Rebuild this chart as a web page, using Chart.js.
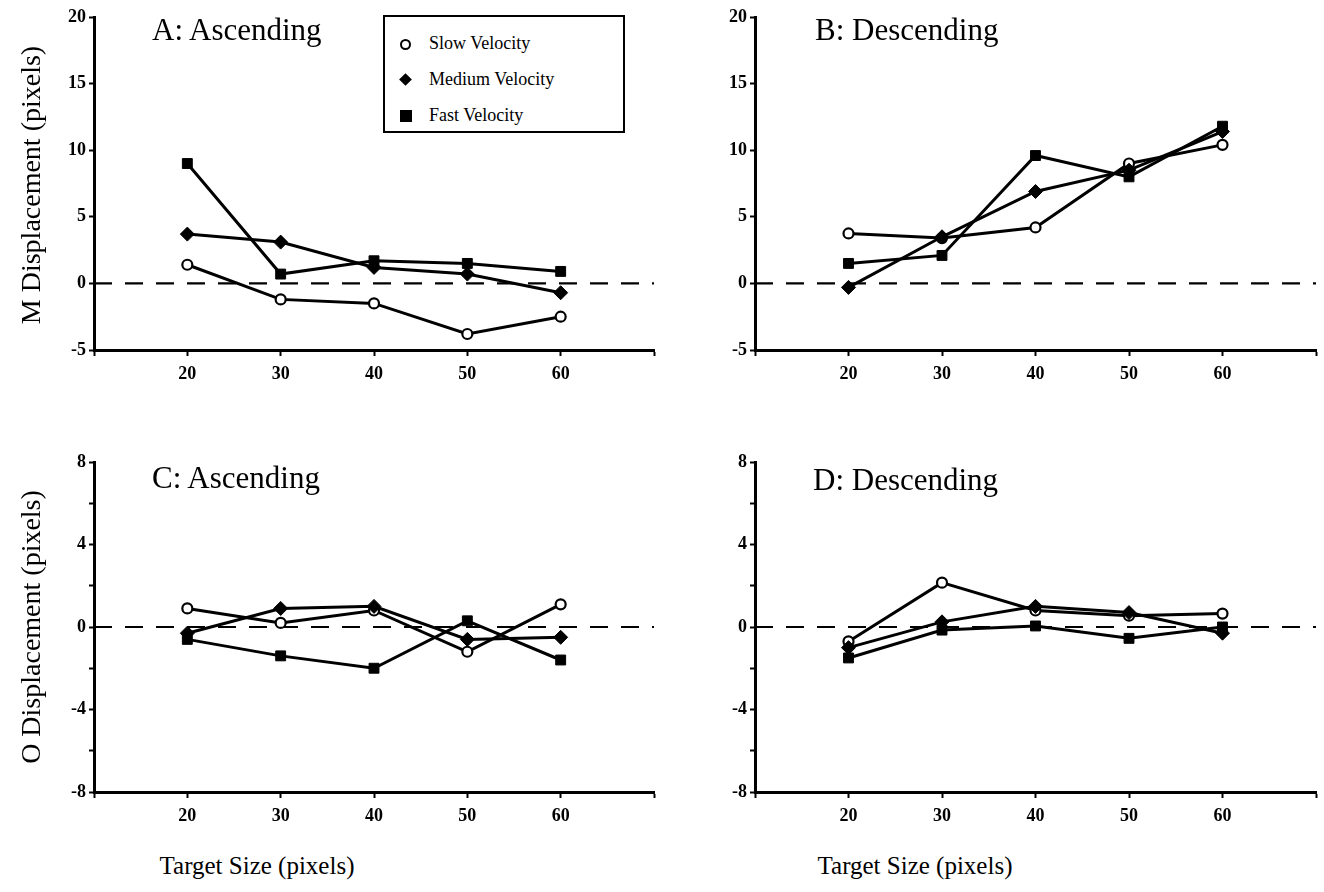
<!DOCTYPE html>
<html>
<head>
<meta charset="utf-8">
<script src="https://cdn.jsdelivr.net/npm/chart.js@4"></script>
<style>
  body { margin: 0; background: #fff; }
  #page { position: relative; width: 1324px; height: 892px; overflow: hidden; font-family: "Liberation Serif", "DejaVu Serif", serif; color: #000; }
  .panel { position: absolute; }
  .label { position: absolute; white-space: nowrap; font-size: 31px; }
  .ytitle { position: absolute; white-space: nowrap; font-size: 28px; transform: translate(-50%, -50%) rotate(-90deg); }
  .xtitle { position: absolute; white-space: nowrap; font-size: 25px; transform: translateX(-50%); }
  .legend { position: absolute; left: 383px; top: 15px; width: 238px; height: 114px; border: 2.5px solid #000; background: #fff; }
  .legend .row { position: absolute; left: 0; font-size: 18px; }
  .legend .mk { position: absolute; left: 15px; }
  .legend .txt { position: absolute; left: 44px; top: -11px; white-space: nowrap; }
  .open { width: 7px; height: 7px; border: 2px solid #000; border-radius: 50%; background: #fff; top: -5px; }
  .diam { width: 9px; height: 9px; background: #000; transform: rotate(45deg); top: -5px; left: 16px !important; }
  .sq { width: 12px; height: 12px; background: #000; top: -6px; }
</style>
</head>
<body>
<div id="page">
  <canvas id="chartA" class="panel" width="662" height="400" style="left:0;top:0"></canvas>
  <canvas id="chartB" class="panel" width="663" height="400" style="left:661px;top:0"></canvas>
  <canvas id="chartC" class="panel" width="662" height="400" style="left:0;top:445px"></canvas>
  <canvas id="chartD" class="panel" width="663" height="400" style="left:661px;top:445px"></canvas>

  <div class="label" style="left:152px;top:12px">A: Ascending</div>
  <div class="label" style="left:815px;top:12px">B: Descending</div>
  <div class="label" style="left:152px;top:460px">C: Ascending</div>
  <div class="label" style="left:813px;top:462px">D: Descending</div>

  <div class="ytitle" style="left:31px;top:185px">M Displacement (pixels)</div>
  <div class="ytitle" style="left:31px;top:627px">O Displacement (pixels)</div>
  <div class="xtitle" style="left:257px;top:852px">Target Size (pixels)</div>
  <div class="xtitle" style="left:915px;top:852px">Target Size (pixels)</div>

  <div class="legend">
    <div class="row" style="top:27px"><div class="mk open"></div><div class="txt">Slow Velocity</div></div>
    <div class="row" style="top:63px"><div class="mk diam"></div><div class="txt">Medium Velocity</div></div>
    <div class="row" style="top:99px"><div class="mk sq"></div><div class="txt">Fast Velocity</div></div>
  </div>
</div>
<script>
// target sizes on the x axis
const targetSizes = [20, 30, 40, 50, 60];
const xRange = [10, 70];

// A: M displacement, ascending
const aSlow = [1.4, -1.2, -1.5, -3.8, -2.5];
const aMedium = [3.7, 3.1, 1.2, 0.7, -0.7];
const aFast = [9.0, 0.7, 1.7, 1.5, 0.9];

// B: M displacement, descending
const bSlow = [3.75, 3.4, 4.2, 9.0, 10.4];
const bMedium = [-0.3, 3.5, 6.9, 8.5, 11.4];
const bFast = [1.5, 2.1, 9.6, 8.0, 11.8];

// C: O displacement, ascending
const cSlow = [0.9, 0.2, 0.8, -1.2, 1.1];
const cMedium = [-0.3, 0.9, 1.0, -0.6, -0.5];
const cFast = [-0.6, -1.4, -2.0, 0.3, -1.6];

// D: O displacement, descending
const dSlow = [-0.7, 2.15, 0.8, 0.55, 0.65];
const dMedium = [-1.0, 0.25, 1.0, 0.7, -0.3];
const dFast = [-1.5, -0.15, 0.05, -0.55, 0.0];

// y axis ranges and tick labels
const mRange = [-5, 20];
const mTickLabels = [-5, 0, 5, 10, 15, 20];
const oRange = [-8, 8];
const oTickLabels = [-8, -4, 0, 4, 8];

const tickFont = { family: "Liberation Serif", size: 18, weight: "bold" };

function pts(ys) {
  return targetSizes.map((x, i) => ({ x: x, y: ys[i] }));
}

function makeChart(id, slow, medium, fast, yRange, yStep, yLabels, topPad, xHeight, rightPad) {
  const ctx = document.getElementById(id).getContext('2d');
  const common = { borderColor: '#000', borderWidth: 3, pointBorderColor: '#000', tension: 0, clip: false, order: 1 };
  return new Chart(ctx, {
    type: 'line',
    data: {
      datasets: [
        { label: 'zero', data: xRange.map(x => ({ x: x, y: 0 })), borderColor: '#000', borderWidth: 2.2, borderDash: [18, 13], pointRadius: 0, order: 10 },
        { ...common, label: 'Fast Velocity', data: pts(fast), pointStyle: 'rect', pointRadius: 7, pointBackgroundColor: '#000', pointBorderWidth: 1 },
        { ...common, label: 'Medium Velocity', data: pts(medium), pointStyle: 'rectRot', pointRadius: 7, pointBackgroundColor: '#000', pointBorderWidth: 1 },
        { ...common, label: 'Slow Velocity', data: pts(slow), pointStyle: 'circle', pointRadius: 5, pointBackgroundColor: '#fff', pointBorderWidth: 2.2 }
      ]
    },
    options: {
      responsive: false,
      animation: false,
      devicePixelRatio: 1,
      layout: { padding: { top: topPad, right: rightPad, left: 0, bottom: 0 } },
      plugins: { legend: { display: false }, tooltip: { enabled: false } },
      scales: {
        x: {
          type: 'linear',
          min: xRange[0],
          max: xRange[1],
          afterFit: s => { s.height = xHeight; },
          border: { color: '#000', width: 3 },
          grid: { drawOnChartArea: false, tickLength: 6, tickColor: '#000', tickWidth: 2 },
          ticks: {
            stepSize: 10,
            autoSkip: false,
            maxRotation: 0,
            padding: 8,
            color: '#000',
            font: tickFont,
            callback: v => targetSizes.includes(v) ? String(v) : ''
          }
        },
        y: {
          min: yRange[0],
          max: yRange[1],
          afterFit: s => { s.width = 94; },
          border: { color: '#000', width: 3 },
          grid: { drawOnChartArea: false, tickLength: 5, tickColor: '#000', tickWidth: 2 },
          ticks: {
            stepSize: yStep,
            autoSkip: false,
            padding: 3,
            color: '#000',
            font: tickFont,
            callback: v => yLabels.includes(v) ? String(v) : ''
          }
        }
      }
    }
  });
}

makeChart('chartA', aSlow, aMedium, aFast, mRange, 5, mTickLabels, 17, 50, 2);
makeChart('chartB', bSlow, bMedium, bFast, mRange, 5, mTickLabels, 17, 50, 4);
makeChart('chartC', cSlow, cMedium, cFast, oRange, 2, oTickLabels, 17, 53, 2);
makeChart('chartD', dSlow, dMedium, dFast, oRange, 2, oTickLabels, 17, 53, 4);
</script>
</body>
</html>
